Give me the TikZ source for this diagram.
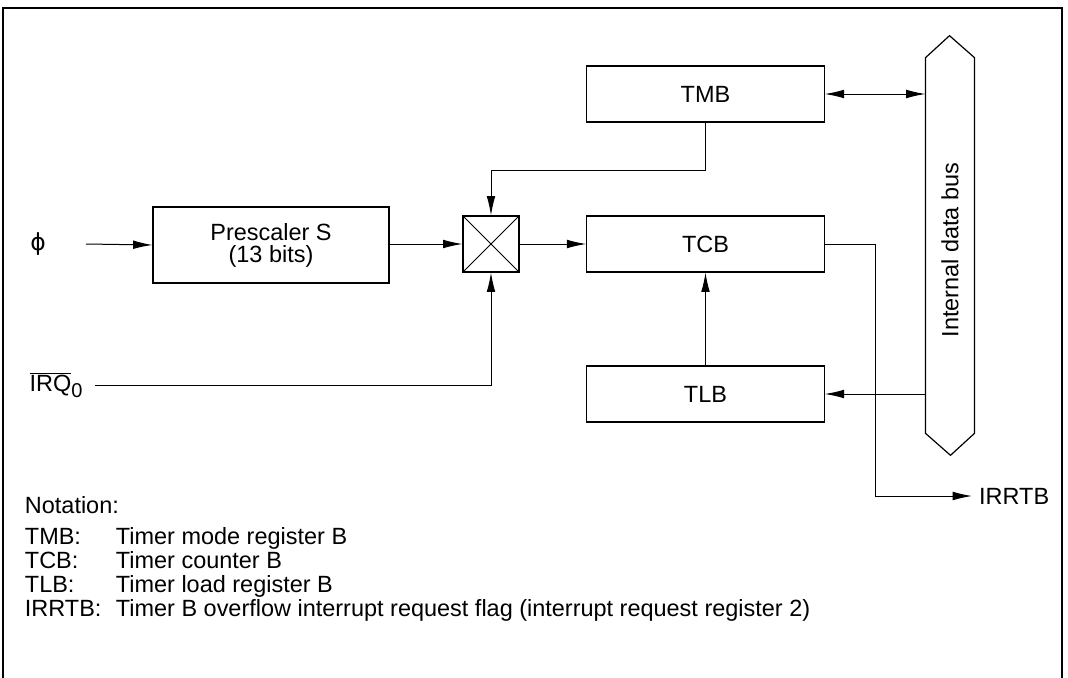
\documentclass[tikz,border=0pt]{standalone}
\usepackage{fontspec}
\setmainfont{Liberation Sans}
\newfontfamily\phifont{DejaVu Sans}
\usetikzlibrary{arrows.meta,positioning}

\begin{document}
\begin{tikzpicture}[x=0.75pt, y=-0.75pt, >={Latex[length=14.5pt,width=6.5pt]},
    line width=0.75pt,
    every node/.style={font=\fontsize{17.6}{16.5}\selectfont},
    reg/.style={draw, line width=0.9pt, minimum width=178pt, minimum height=42pt, inner sep=0pt}]
    \useasboundingbox (0,0) rectangle (1068,678);

    % --- 1. 枠 ---
    \draw[line width=1pt] (3,678) -- (3,8) -- (1062,8) -- (1062,678);

    % --- 2. レジスタとスイッチ ---
    \node[reg] (tmb) at (705.5,94)  {TMB};
    \node[reg] (tcb) at (705.5,244) {TCB};
    \node[reg] (tlb) at (705.5,394) {TLB};
    \node[reg, minimum width=177pt, minimum height=57pt, align=center]
        (pre) at (271,245) {Prescaler S\\(13 bits)};
    \node[draw, line width=0.9pt, minimum size=42pt, inner sep=0pt] (sw) at (491,244) {};
    \draw (sw.north west) -- (sw.south east);
    \draw (sw.north east) -- (sw.south west);

    % 内部データバス
    \node[minimum width=36pt, minimum height=281pt, inner sep=0pt] (bus) at (950,245.5) {};
    \draw[line width=0.9pt] (bus.north west) -- ++(24,-22) -- (bus.north east) -- (bus.south east)
        -- ++(-24,22) -- (bus.south west) -- cycle;
    \node[rotate=90] (buslabel) at (950,250) {Internal data bus};

    % --- 3. 入出力 ---
    \node (phi) at (38,244) {\phifont ϕ};
    \coordinate (phi-out) at (86,244);
    \node[anchor=east] (irq) at (88,385) {$\overline{\mbox{IRQ}}_{\mbox{\fontsize{15}{15}\selectfont 0}}$};
    \coordinate (irq-out) at (95,385);
    \node[anchor=west, inner sep=5pt] (irrtb) at (972,496) {IRRTB};

    % --- 4. 線の描画 ---
    \draw[->] (phi-out) -- (pre.west);
    \draw[->] (pre.east |- sw) -- (sw.west);
    \draw[->] (sw.east) -- (tcb.west);
    \draw[->] (tmb.south) -- ++(0,48) -| (sw.north);
    \draw[->] (irq-out) -| (sw.south);
    \draw[->] (tlb.north) -- (tcb.south);
    \draw[<->] (tmb.east) -- (tmb.east -| bus.west);
    \draw[->] (tlb.east -| bus.west) -- (tlb.east);
    \draw[->] (tcb.east) -- ++(51,0) |- (irrtb.west);

    % --- 5. 記号の説明 ---
    \node[anchor=base west] (notation) at (20,513) {Notation:};
    \foreach \abbr/\desc [count=\i] in {TMB/Timer mode register B,
        TCB/Timer counter B, TLB/Timer load register B,
        IRRTB/Timer B overflow interrupt request flag (interrupt request register 2)} {
      \node[anchor=base west] (abbr-\i) at (20,520+24*\i) {\abbr:};
      \node[anchor=base west] (desc-\i) at (111,520+24*\i) {\desc};
    }
\end{tikzpicture}
\end{document}
